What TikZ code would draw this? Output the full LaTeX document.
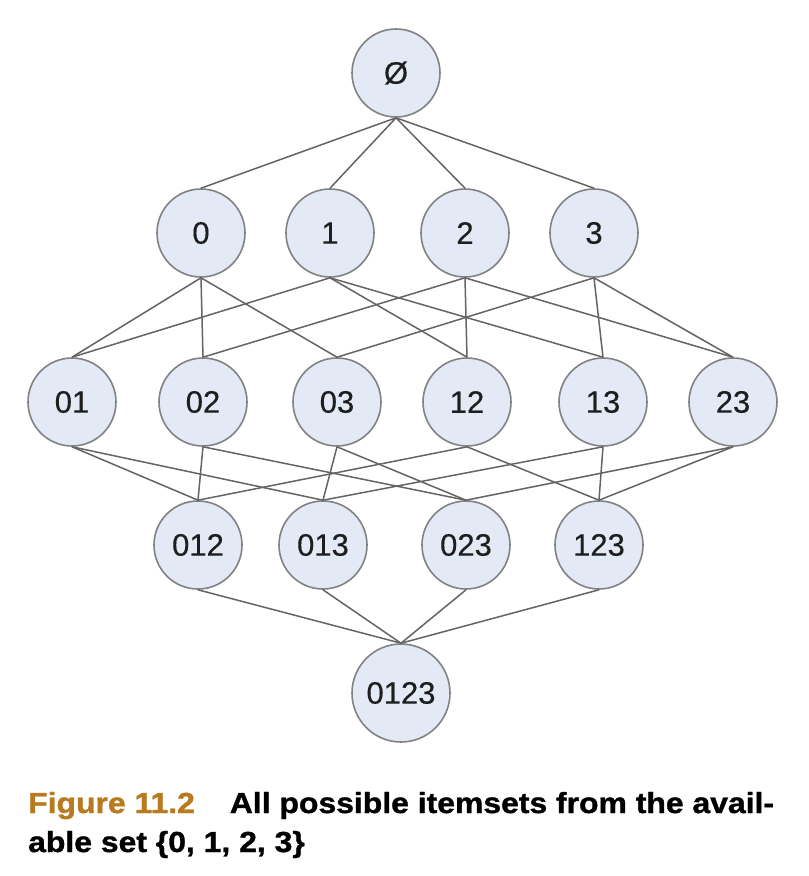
\documentclass[tikz,border=0pt]{standalone}
\usepackage{fontspec}
\setmainfont{Liberation Sans}
\newfontfamily\capfont[FakeStretch=1.1,FakeBold=1.2]{Liberation Sans}
\newfontfamily\labfont[FakeBold=0.4]{Liberation Sans}
\definecolor{nodefill}{RGB}{227,234,246}
\definecolor{nodeline}{RGB}{130,130,130}
\definecolor{edgecol}{RGB}{100,100,100}
\definecolor{figgold}{RGB}{184,122,30}
\definecolor{labelcol}{RGB}{30,30,30}
\begin{document}
\begin{tikzpicture}[x=1pt,y=-1pt,
  setnode/.style={circle,draw=nodeline,line width=1.6pt,fill=nodefill,
    minimum size=88pt,inner sep=0pt,text=labelcol,
    font=\labfont\fontsize{31}{36}\selectfont},
  link/.style={draw=edgecol,line width=1.5pt},
  captext/.style={anchor=base west,inner sep=0pt,
    font=\capfont\bfseries\fontsize{29}{34}\selectfont}]
\useasboundingbox[fill=white] (0,0) rectangle (809,876);
% nodes
\node[setnode] (e) at (396,73) {Ø};
\node[setnode] (n0) at (201,233) {0};
\node[setnode] (n1) at (330,233) {1};
\node[setnode] (n2) at (465,233) {2};
\node[setnode] (n3) at (594,233) {3};
\node[setnode] (n01) at (72,402) {01};
\node[setnode] (n02) at (203,402) {02};
\node[setnode] (n03) at (337,402) {03};
\node[setnode] (n12) at (467,402) {12};
\node[setnode] (n13) at (603,402) {13};
\node[setnode] (n23) at (733,402) {23};
\node[setnode] (n012) at (198,545) {012};
\node[setnode] (n013) at (323,545) {013};
\node[setnode] (n023) at (466,545) {023};
\node[setnode] (n123) at (599,545) {123};
\node[setnode,minimum size=98pt] (n0123) at (401,693) {0123};
% edges
\foreach \c in {n0,n1,n2,n3} \draw[link] (e.south) -- (\c.north);
\foreach \p/\c in {n0/n01,n0/n02,n0/n03,n1/n01,n1/n12,n1/n13,n2/n02,n2/n12,n2/n23,n3/n03,n3/n13,n3/n23}
  \draw[link] (\p.south) -- (\c.north);
\foreach \p/\c in {n01/n012,n01/n013,n02/n012,n02/n023,n03/n013,n03/n023,n12/n012,n12/n123,n13/n013,n13/n123,n23/n023,n23/n123}
  \draw[link] (\p.south) -- (\c.north);
\foreach \p in {n012,n013,n023,n123} \draw[link] (\p.south) -- (n0123.north);
% caption
\node[captext] (cap1) at (28,813) {\textcolor{figgold}{Figure 11.2}\hspace{35pt}All possible itemsets from the avail-};
\node[captext] (cap2) at (28,852) {able set \{0, 1, 2, 3\}};
\end{tikzpicture}
\end{document}
